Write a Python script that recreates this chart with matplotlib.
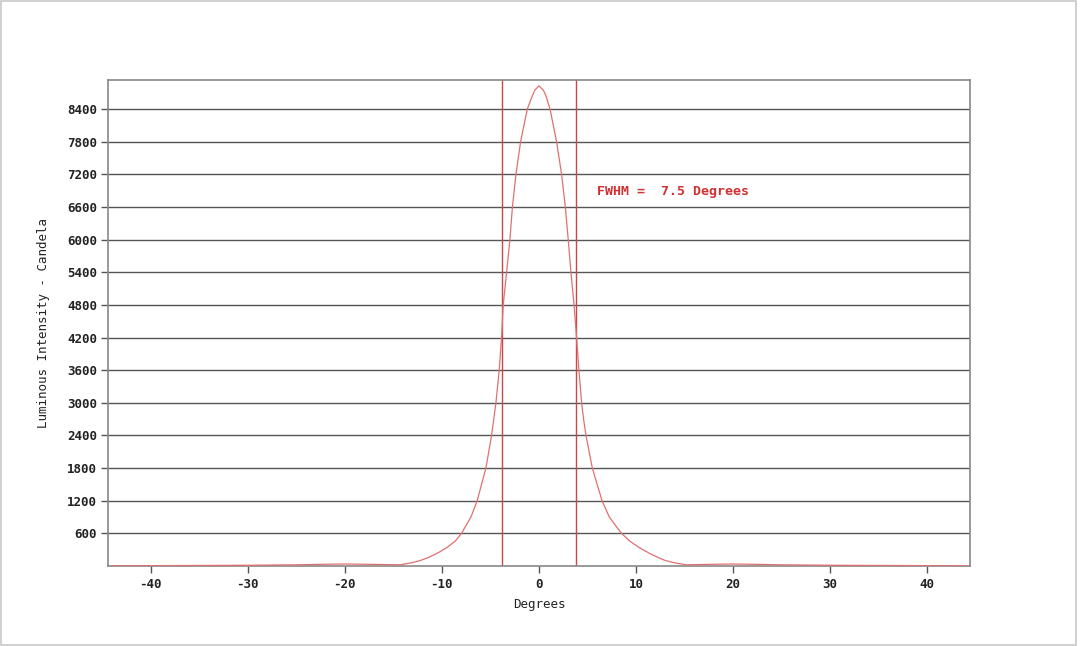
import matplotlib
matplotlib.use("Agg")
import matplotlib.pyplot as plt
from matplotlib.patches import Rectangle

# Data (degrees vs candela)
angle_deg = [-44, -40, -35, -30, -25, -22, -20, -18, -16, -14.3, -13.0, -12.2,
             -11.4, -10.4, -9.45, -8.6, -7.97, -7.0, -6.36, -5.46, -4.88,
             -4.65, -4.43, -4.09, -3.85, -3.68, -3.33, -2.99, -2.73, -2.37,
             -1.89, -1.2, -0.65, -0.41, 0.0,
             0.45, 0.7, 1.15, 1.82, 2.34, 2.72, 3.02, 3.30, 3.62, 3.88, 4.12,
             4.4, 4.6, 4.85, 5.5, 6.5, 7.25, 8.5, 9.4, 10.4, 11.4, 12.3, 13.0,
             13.85, 15.2, 18, 20, 22, 25, 30, 35, 40, 44]
intensity_cd = [3, 5, 8, 12, 20, 30, 35, 30, 25, 20, 61, 100,
                154, 240, 340, 460, 600, 900, 1200, 1800, 2400,
                2700, 3000, 3600, 4200, 4800, 5400, 6000, 6600, 7200,
                7800, 8400, 8660, 8750, 8830,
                8750, 8660, 8400, 7800, 7200, 6600, 6000, 5400, 4800, 4200, 3600,
                3000, 2700, 2400, 1800, 1200, 900, 600, 450, 330, 230, 154, 100,
                61, 20, 30, 35, 30, 20, 12, 8, 5, 3]
fwhm_edges = [-3.78, 3.78]
x_ticks = [-40, -30, -20, -10, 0, 10, 20, 30, 40]
y_ticks = [600, 1200, 1800, 2400, 3000, 3600, 4200, 4800, 5400, 6000,
           6600, 7200, 7800, 8400]
annotation = "FWHM =  7.5 Degrees"

plt.rcParams['font.family'] = ['DejaVu Sans Mono']

fig = plt.figure(figsize=(10.8, 6.46), dpi=100)
fig.patches.append(Rectangle((0.001, 0.002), 0.995, 0.996, transform=fig.transFigure,
                             fill=False, edgecolor='#c8c8c8', linewidth=1.2))
ax = fig.add_axes([0.1, 0.124, 0.798, 0.752])

ax.set_xlim(-44.4, 44.4)
ax.set_ylim(0, 8935)

for t in y_ticks:
    ax.axhline(t, color='#555555', linewidth=1.0, zorder=1)

for xv in fwhm_edges:
    ax.axvline(xv, color='#c84848', linewidth=1.0, zorder=2)

ax.plot(angle_deg, intensity_cd, color='#e07070', linewidth=0.9, zorder=3,
        solid_joinstyle='round')

ax.text(6.0, 6890, annotation, color='#d03030', fontsize=9.5,
        va='center', ha='left', fontweight='bold')

ax.set_xticks(x_ticks)
ax.set_xticklabels([str(v) for v in x_ticks])
ax.set_yticks(y_ticks)
ax.set_yticklabels([str(v) for v in y_ticks])
ax.tick_params(axis='both', direction='out', length=5, width=1,
               color='#555555', labelsize=9, labelcolor='#222222', pad=3)
ax.tick_params(axis='x', pad=4)
for lbl in ax.get_xticklabels() + ax.get_yticklabels():
    lbl.set_fontweight('bold')

for s in ax.spines.values():
    s.set_color('#888888')
    s.set_linewidth(1.2)

ax.set_xlabel("Degrees", fontsize=9, color='#222222', labelpad=5)
ax.set_ylabel("Luminous Intensity - Candela", fontsize=9, color='#222222', labelpad=12)

fig.savefig("out.png", dpi=100)
